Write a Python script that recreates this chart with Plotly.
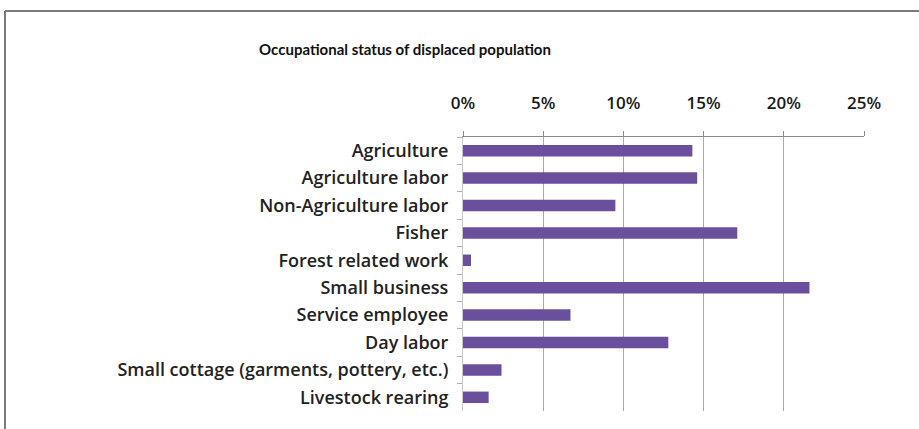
import plotly.graph_objects as go

# Occupational status of displaced population (share of households)
categories = [
    "Agriculture",
    "Agriculture labor",
    "Non-Agriculture labor",
    "Fisher",
    "Forest related work",
    "Small business",
    "Service employee",
    "Day labor",
    "Small cottage (garments, pottery, etc.)",
    "Livestock rearing",
]
shares = [0.143, 0.146, 0.095, 0.171, 0.005, 0.216, 0.067, 0.128, 0.024, 0.016]
tick_values = [0, 0.05, 0.10, 0.15, 0.20, 0.25]
tick_labels = ["0%", "5%", "10%", "15%", "20%", "25%"]

W, H = 919, 429
ML, MR, MT, MB = 463, 55, 137, 18
PW, PH = W - ML - MR, H - MT - MB

BAR = "#6a4f9c"
LABEL_FONT = "Open Sans"
TITLE_FONT = "Lato"

fig = go.Figure(
    go.Bar(
        x=shares,
        y=categories,
        orientation="h",
        marker=dict(color=BAR, line=dict(width=0)),
        hovertemplate="%{y}: %{x:.1%}<extra></extra>",
    )
)


def px_x(p):
    return (p - ML) / PW


def px_y(p):
    return (H - MB - p) / PH


# outer frame (top and left edges)
frame = dict(color="#7a7a7a", width=2)
fig.add_shape(type="line", xref="paper", yref="paper",
              x0=px_x(5), x1=px_x(W + 5), y0=px_y(11), y1=px_y(11), line=frame)
fig.add_shape(type="line", xref="paper", yref="paper",
              x0=px_x(5), x1=px_x(5), y0=px_y(11), y1=px_y(H + 5), line=frame)

fig.update_layout(
    width=W,
    height=H,
    margin=dict(l=ML, r=MR, t=MT, b=MB),
    paper_bgcolor="white",
    plot_bgcolor="white",
    bargap=0.58,
    showlegend=False,
    font=dict(family=LABEL_FONT, color="#1a1a1a", size=16),
    title=dict(
        text="<b>Occupational status of displaced population</b>",
        x=405 / W,
        xanchor="center",
        xref="container",
        y=1 - 50 / H,
        yanchor="middle",
        yref="container",
        font=dict(family=TITLE_FONT, size=15, color="#111111"),
    ),
    xaxis=dict(
        side="top",
        range=[0, 0.25],
        tickvals=tick_values,
        ticktext=tick_labels,
        tickfont=dict(family=LABEL_FONT, size=17, weight=600, color="#1a1a1a"),
        showgrid=True,
        gridcolor="#a8a8a8",
        gridwidth=1,
        showline=True,
        linecolor="#8a8a8a",
        linewidth=1,
        ticks="outside",
        ticklen=5,
        tickcolor="#8a8a8a",
        ticklabelstandoff=15,
        zeroline=False,
        fixedrange=True,
    ),
    yaxis=dict(
        autorange="reversed",
        tickfont=dict(family=LABEL_FONT, size=18, weight=600, color="#222222"),
        showgrid=False,
        showline=True,
        linecolor="#c8c8c8",
        linewidth=1,
        ticks="outside",
        tickson="boundaries",
        ticklen=5,
        tickcolor="#b0b0b0",
        ticklabelstandoff=10,
        zeroline=False,
        fixedrange=True,
    ),
)

fig.write_html("out.html")
